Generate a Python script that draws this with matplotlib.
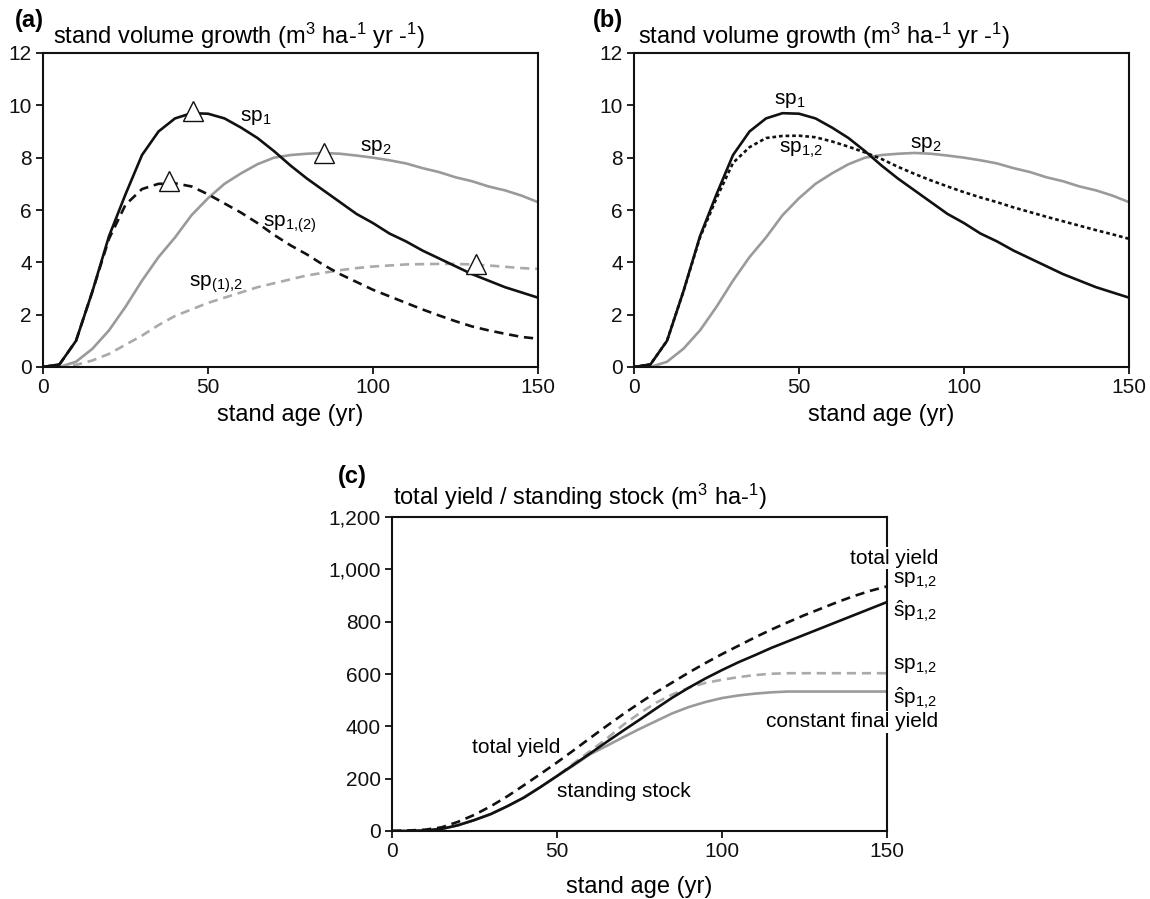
import numpy as np
import matplotlib
matplotlib.use("Agg")
import matplotlib.pyplot as plt
from matplotlib.ticker import FuncFormatter

plt.rcParams["font.family"] = ["Liberation Sans", "DejaVu Sans"]
plt.rcParams["mathtext.fontset"] = "custom"
plt.rcParams["mathtext.rm"] = "Liberation Sans"
plt.rcParams["mathtext.it"] = "Liberation Sans:italic"
plt.rcParams["mathtext.bf"] = "Liberation Sans:bold"

# ---- data ----
ages = np.arange(0, 155, 5)

# stand volume growth (m3/ha/yr)
sp1 = [0, 0.1, 1.0, 2.9, 5.0, 6.6, 8.1, 9.0, 9.5, 9.7, 9.68, 9.5, 9.15, 8.75, 8.25, 7.7,
       7.2, 6.75, 6.3, 5.85, 5.5, 5.1, 4.8, 4.45, 4.15, 3.85, 3.55, 3.3, 3.05, 2.85, 2.65]
sp2 = [0, 0.0, 0.2, 0.7, 1.4, 2.3, 3.3, 4.2, 4.95, 5.8, 6.45, 7.0, 7.4, 7.75, 8.0, 8.1,
       8.15, 8.18, 8.15, 8.08, 8.0, 7.9, 7.78, 7.6, 7.45, 7.25, 7.1, 6.9, 6.75, 6.55, 6.3]
sp1_in_mix = [0, 0.1, 1.0, 2.9, 4.9, 6.2, 6.8, 7.0, 7.02, 6.9, 6.6, 6.25, 5.9, 5.5, 5.05, 4.65,
              4.3, 3.9, 3.55, 3.25, 2.95, 2.7, 2.45, 2.2, 1.97, 1.75, 1.55, 1.4, 1.27, 1.15, 1.08]
sp2_in_mix = [0, 0, 0.08, 0.25, 0.5, 0.85, 1.2, 1.6, 1.95, 2.2, 2.45, 2.65, 2.85, 3.05, 3.2, 3.35,
              3.5, 3.6, 3.7, 3.78, 3.84, 3.88, 3.92, 3.93, 3.94, 3.94, 3.92, 3.88, 3.83, 3.78, 3.75]
mix = [0, 0.1, 1.0, 2.9, 4.95, 6.45, 7.8, 8.4, 8.75, 8.83, 8.84, 8.78, 8.62, 8.42, 8.2, 7.95,
       7.65, 7.38, 7.13, 6.9, 6.68, 6.48, 6.3, 6.1, 5.92, 5.74, 5.57, 5.4, 5.23, 5.07, 4.9]

# culmination points (age, growth)
peak_age = [45.6, 38.3, 85.3, 131.2]
peak_val = [9.8, 7.12, 8.17, 3.94]

# total yield / standing stock (m3/ha)
ty_const = [0, 2, 5, 14, 35, 62, 95, 133, 175, 218, 262, 308, 355, 401, 446, 489,
            530, 568, 606, 642, 676, 708, 740, 770, 798, 825, 850, 875, 898, 918, 935]
ss_const = [0, 0, 2, 8, 22, 42, 65, 95, 128, 168, 210, 253, 296, 340, 383, 425,
            468, 510, 548, 583, 615, 645, 672, 700, 725, 750, 775, 800, 825, 850, 875]
ty_final = [0, 0, 2, 8, 22, 42, 65, 95, 128, 168, 210, 258, 305, 352, 405, 450,
            490, 522, 548, 566, 578, 588, 596, 601, 603, 603, 603, 603, 603, 603, 603]
ss_final = [0, 0, 2, 8, 22, 42, 65, 95, 128, 168, 210, 250, 293, 325, 358, 390,
            420, 450, 474, 493, 508, 518, 525, 530, 533, 533, 533, 533, 533, 533, 533]

# right-hand labels of panel (c)
end_label_y = [955, 840, 628, 508]
end_label_txt = [r"sp$_{1{,}2}$", r"$\hat{\mathrm{s}}\mathrm{p}_{1{,}2}$",
                 r"sp$_{1{,}2}$", r"$\hat{\mathrm{s}}\mathrm{p}_{1{,}2}$"]

BLACK = "#111111"
GRAY = "#9a9a9a"
LGRAY = "#aaaaaa"
LW = 1.9
TICK_FS = 15
LAB_FS = 17
CURVE_FS = 15

fig = plt.figure(figsize=(11.5, 8.99), dpi=100)
ax_a = fig.add_axes([43 / 1150, 1 - 367 / 899, 495 / 1150, 314 / 899])
ax_b = fig.add_axes([634 / 1150, 1 - 367 / 899, 495 / 1150, 314 / 899])
ax_c = fig.add_axes([392 / 1150, 1 - 831 / 899, 495 / 1150, 314 / 899])


def style(ax, ymax, ystep):
    ax.set_xlim(0, 150)
    ax.set_ylim(0, ymax)
    ax.set_xticks([0, 50, 100, 150])
    ax.set_yticks(np.arange(0, ymax + 1, ystep))
    for s in ax.spines.values():
        s.set_linewidth(1.5)
        s.set_color(BLACK)
    ax.tick_params(direction="out", length=5, width=1.3, labelsize=TICK_FS, pad=3,
                   colors=BLACK)


# ---- (a) ----
ax = ax_a
ax.plot(ages, sp2, color=GRAY, lw=LW)
ax.plot(ages, sp2_in_mix, color=LGRAY, lw=LW, dashes=(3.5, 2.2))
ax.plot(ages, sp1_in_mix, color=BLACK, lw=LW, dashes=(3.5, 2.2))
ax.plot(ages, sp1, color=BLACK, lw=LW)
ax.plot(peak_age, peak_val, ls="none", marker="^", ms=14, mfc="white", mec=BLACK, mew=1.0,
        zorder=5)
style(ax, 12, 2)
ax.set_xlabel("stand age (yr)", fontsize=LAB_FS, labelpad=5)
ax.text(64.4, 9.55, r"sp$_1$", fontsize=CURVE_FS, ha="center", va="center")
ax.text(101, 8.4, r"sp$_2$", fontsize=CURVE_FS, ha="center", va="center")
ax.text(74.7, 5.45, r"sp$_{1{,}(2)}$", fontsize=CURVE_FS, ha="center", va="center")
ax.text(52.5, 3.15, r"sp$_{(1){,}2}$", fontsize=CURVE_FS, ha="center", va="center")
fig.text(15 / 1150, 1 - 21 / 899, "(a)", fontsize=17, fontweight="bold", va="center")
fig.text(53 / 1150, 1 - 36 / 899, r"stand volume growth (m$^3$ ha-$^1$ yr -$^1$)",
         fontsize=LAB_FS, va="center")

# ---- (b) ----
ax = ax_b
ax.plot(ages, sp2, color=GRAY, lw=LW)
ax.plot(ages, mix, color=BLACK, lw=LW, dashes=(1.4, 1.1))
ax.plot(ages, sp1, color=BLACK, lw=LW)
style(ax, 12, 2)
ax.set_xlabel("stand age (yr)", fontsize=LAB_FS, labelpad=5)
ax.text(47.2, 10.2, r"sp$_1$", fontsize=CURVE_FS, ha="center", va="center")
ax.text(50.6, 8.3, r"sp$_{1{,}2}$", fontsize=CURVE_FS, ha="center", va="center")
ax.text(88.3, 8.5, r"sp$_2$", fontsize=CURVE_FS, ha="center", va="center")
fig.text(593 / 1150, 1 - 21 / 899, "(b)", fontsize=17, fontweight="bold", va="center")
fig.text(638 / 1150, 1 - 36 / 899, r"stand volume growth (m$^3$ ha-$^1$ yr -$^1$)",
         fontsize=LAB_FS, va="center")

# ---- (c) ----
ax = ax_c
ax.plot(ages, ss_final, color=GRAY, lw=LW)
ax.plot(ages, ty_final, color=LGRAY, lw=LW, dashes=(3.5, 2.2))
ax.plot(ages, ss_const, color=BLACK, lw=LW)
ax.plot(ages, ty_const, color=BLACK, lw=LW, dashes=(3.5, 2.2))
style(ax, 1200, 200)
ax.yaxis.set_major_formatter(FuncFormatter(lambda v, p: f"{int(v):,}"))
ax.set_xlabel("stand age (yr)", fontsize=LAB_FS, labelpad=11)
ax.text(51, 318, "total yield", fontsize=CURVE_FS, ha="right", va="center")
ax.text(50, 150, "standing stock", fontsize=CURVE_FS, ha="left", va="center")
bb = dict(facecolor="white", edgecolor="none", pad=1)
ax.text(165.5, 1043, "total yield", fontsize=CURVE_FS, ha="right", va="center", bbox=bb)
ax.text(165.5, 418, "constant final yield", fontsize=CURVE_FS, ha="right", va="center",
        bbox=bb)
for y, txt in zip(end_label_y, end_label_txt):
    ax.text(151.8, y, txt, fontsize=CURVE_FS, ha="left", va="center")
fig.text(338 / 1150, 1 - 477 / 899, "(c)", fontsize=17, fontweight="bold", va="center")
fig.text(393 / 1150, 1 - 497 / 899, r"total yield / standing stock (m$^3$ ha-$^1$)",
         fontsize=LAB_FS, va="center")

fig.savefig("out.png", dpi=100)
